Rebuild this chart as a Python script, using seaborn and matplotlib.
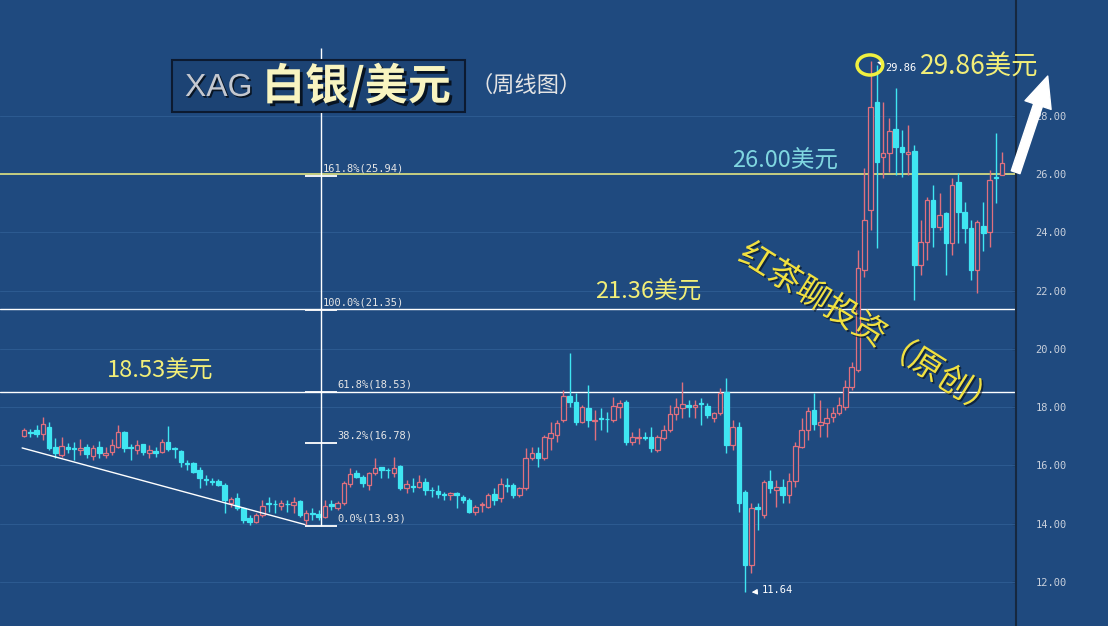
import numpy as np
import pandas as pd
import matplotlib.pyplot as plt
import seaborn as sns
from matplotlib import patheffects as pe
from matplotlib.patches import Rectangle, Ellipse

# weekly XAG/USD candles (open, high, low, close)
opens = [17.02, 17.16, 17.21, 17.07, 17.33, 16.64, 16.36, 16.64, 16.60, 16.53,
         16.64, 16.33, 16.64, 16.36, 16.47, 16.64, 17.16, 16.64, 16.53, 16.72,
         16.41, 16.49, 16.47, 16.79, 16.60, 16.49, 16.09, 16.07, 15.84, 15.52,
         15.46, 15.46, 15.33, 14.70, 14.87, 14.53, 14.18, 14.07, 14.30, 14.72,
         14.69, 14.62, 14.69, 14.64, 14.78, 14.13, 14.38, 14.33, 14.24, 14.66,
         14.53, 14.70, 15.35, 15.73, 15.61, 15.33, 15.73, 15.93, 15.86, 15.73,
         15.99, 15.21, 15.29, 15.27, 15.42, 15.17, 15.13, 15.00, 14.99, 15.07,
         14.93, 14.81, 14.41, 14.63, 14.59, 15.01, 14.87, 15.34, 15.33, 14.99,
         15.21, 16.24, 16.41, 16.24, 16.93, 17.04, 17.56, 18.38, 18.19, 17.50,
         17.96, 17.53, 17.61, 17.60, 17.56, 18.01, 18.19, 16.81, 16.93, 16.97,
         16.99, 16.53, 16.93, 17.21, 17.76, 17.96, 18.07, 17.99, 18.14, 18.04,
         17.61, 17.79, 18.53, 16.70, 17.33, 15.09, 12.58, 14.56, 14.30, 15.48,
         15.16, 15.25, 14.98, 15.48, 16.64, 17.21, 17.90, 17.39, 17.44, 17.65,
         17.79, 18.01, 18.70, 19.27, 22.71, 24.76, 28.48, 26.58, 26.71, 27.54,
         26.91, 26.69, 26.80, 22.88, 23.68, 25.11, 24.19, 24.65, 23.64, 25.74,
         24.71, 24.14, 22.71, 24.22, 24.02, 25.91, 25.97]
highs = [17.28, 17.25, 17.38, 17.67, 17.50, 16.94, 16.96, 16.77, 16.81, 16.92,
         16.72, 16.70, 16.83, 16.64, 16.92, 17.39, 17.18, 16.75, 16.87, 16.75,
         16.70, 16.64, 16.92, 17.36, 16.64, 16.53, 16.19, 16.13, 15.96, 15.67,
         15.56, 15.55, 15.39, 14.93, 15.04, 14.59, 14.30, 14.36, 14.81, 14.93,
         14.81, 14.81, 14.81, 14.93, 14.81, 14.47, 14.53, 14.47, 14.81, 14.81,
         14.78, 15.45, 15.90, 15.84, 15.67, 15.79, 16.24, 15.96, 15.90, 16.30,
         16.02, 15.50, 15.56, 15.67, 15.56, 15.27, 15.33, 15.10, 15.10, 15.10,
         14.99, 14.87, 14.64, 14.76, 15.04, 15.21, 15.56, 15.56, 15.39, 15.27,
         16.59, 16.64, 16.64, 17.05, 17.50, 17.56, 18.59, 19.85, 18.47, 18.07,
         18.76, 17.90, 17.96, 17.84, 18.36, 18.24, 18.24, 17.16, 17.27, 17.16,
         17.33, 17.04, 17.39, 18.07, 18.30, 18.87, 18.24, 18.24, 18.30, 18.13,
         17.84, 18.64, 18.99, 17.56, 17.49, 15.16, 14.71, 14.71, 15.50, 15.84,
         15.50, 15.53, 15.73, 16.81, 17.61, 18.01, 18.47, 18.24, 17.96, 18.01,
         18.36, 18.93, 19.56, 23.39, 26.21, 29.86, 29.75, 28.48, 27.92, 28.94,
         27.51, 27.67, 27.00, 24.42, 25.22, 25.62, 25.34, 24.70, 25.85, 26.03,
         25.05, 24.42, 24.42, 25.05, 26.15, 27.41, 26.77]
lows = [16.97, 16.98, 16.98, 16.87, 16.53, 16.25, 16.30, 16.43, 16.19, 16.36,
        16.25, 16.19, 16.25, 16.25, 16.36, 16.59, 16.47, 16.19, 16.39, 16.36,
        16.25, 16.30, 16.41, 16.50, 16.25, 15.96, 15.84, 15.73, 15.21, 15.33,
        15.33, 15.28, 14.36, 14.59, 14.47, 14.01, 13.96, 14.01, 14.24, 14.41,
        14.36, 14.47, 14.41, 14.36, 14.24, 13.95, 14.13, 14.13, 14.18, 14.47,
        14.47, 14.64, 15.27, 15.56, 15.27, 15.16, 15.67, 15.56, 15.56, 15.61,
        15.16, 15.04, 15.10, 15.21, 14.99, 14.93, 14.87, 14.81, 14.81, 14.53,
        14.70, 14.36, 14.30, 14.41, 14.53, 14.64, 14.76, 15.10, 14.87, 14.93,
        15.16, 16.19, 15.96, 16.19, 16.53, 16.81, 17.50, 18.01, 17.39, 17.44,
        17.33, 16.87, 17.21, 17.16, 17.50, 17.61, 16.70, 16.70, 16.75, 16.87,
        16.47, 16.47, 16.87, 17.16, 17.56, 17.61, 17.67, 17.61, 17.39, 17.61,
        17.50, 17.73, 16.41, 16.53, 14.40, 11.64, 12.31, 13.78, 14.18, 15.04,
        14.59, 14.71, 14.71, 15.27, 16.59, 16.87, 17.21, 16.99, 16.99, 17.50,
        17.73, 17.90, 18.59, 19.22, 22.47, 24.08, 23.46, 25.86, 26.07, 25.97,
        25.91, 25.97, 21.68, 22.54, 23.05, 23.51, 24.08, 22.54, 23.22, 23.63,
        23.63, 22.36, 21.92, 23.37, 23.48, 25.00, 25.95]
closes = [17.21, 17.12, 17.07, 17.41, 16.59, 16.41, 16.68, 16.56, 16.57, 16.61,
          16.39, 16.59, 16.41, 16.41, 16.70, 17.14, 16.59, 16.60, 16.70, 16.47,
          16.53, 16.42, 16.79, 16.56, 16.56, 16.13, 16.06, 15.78, 15.56, 15.49,
          15.43, 15.33, 14.81, 14.84, 14.53, 14.13, 14.07, 14.30, 14.61, 14.68,
          14.66, 14.70, 14.66, 14.76, 14.30, 14.38, 14.35, 14.22, 14.61, 14.62,
          14.70, 15.39, 15.70, 15.61, 15.39, 15.73, 15.90, 15.85, 15.83, 15.90,
          15.21, 15.35, 15.26, 15.42, 15.16, 15.14, 15.01, 14.98, 15.04, 14.99,
          14.81, 14.41, 14.59, 14.66, 14.99, 14.81, 15.35, 15.31, 14.99, 15.21,
          16.24, 16.41, 16.24, 16.99, 17.10, 17.44, 18.38, 18.19, 17.50, 18.01,
          17.56, 17.56, 17.58, 17.58, 18.04, 18.13, 16.81, 16.96, 16.99, 16.95,
          16.59, 16.96, 17.21, 17.76, 18.01, 18.11, 18.01, 18.07, 18.11, 17.73,
          17.79, 18.47, 16.70, 17.33, 14.71, 12.58, 14.54, 14.52, 15.44, 15.21,
          15.27, 14.98, 15.48, 16.66, 17.21, 17.88, 17.42, 17.50, 17.61, 17.79,
          18.07, 18.70, 19.39, 22.76, 24.42, 28.31, 26.42, 26.72, 27.49, 26.91,
          26.77, 26.77, 22.88, 23.68, 25.11, 24.19, 24.59, 23.64, 25.62, 24.71,
          24.14, 22.71, 24.36, 23.96, 25.79, 25.85, 26.37]

y_ticks = [12, 14, 16, 18, 20, 22, 24, 26, 28]
fib_levels = [25.94, 21.35, 18.53, 16.78, 13.93]
fib_labels = ['161.8%(25.94)', '100.0%(21.35)', '61.8%(18.53)', '38.2%(16.78)', '0.0%(13.93)']
fib_label_x = [47.7, 47.7, 49.9, 49.9, 49.9]
trend_x = [-0.3, 44.8]
trend_y = [16.60, 13.97]
high_price = 29.86
low_price = 11.64

bg = '#1f4a7f'
red = '#e0707e'
cyan = '#3fe6f2'
yellow = '#f2ee78'

sns.set_style('dark', rc={'axes.facecolor': bg, 'figure.facecolor': bg})
plt.rcParams['font.family'] = ['Noto Sans CJK SC', 'DejaVu Sans']

df = pd.DataFrame({'open': opens, 'high': highs, 'low': lows, 'close': closes})
df['x'] = np.arange(len(df))
up = (df['close'] >= df['open']).values

fig = plt.figure(figsize=(11.08, 6.26), dpi=100)
ax = fig.add_axes([0, 0, 1016 / 1108, 1])
ax.set_facecolor(bg)

# grid
for v in y_ticks:
    ax.axhline(v, color='#2c5a90', lw=0.8, zorder=1)

# candles
ax.vlines(df['x'], df['low'], df['high'], colors=np.where(up, red, cyan), lw=1, zorder=3)
body = np.maximum((df['close'] - df['open']).abs(), 0.025)
ax.bar(df['x'], body, bottom=np.minimum(df['open'], df['close']), width=0.72,
       color=np.where(up, bg, cyan), edgecolor=np.where(up, red, cyan), linewidth=0.9, zorder=4)

# key level lines
ax.axhline(26.00, color='#f0f080', lw=1.1, zorder=2)
ax.axhline(21.36, color='white', lw=1, zorder=2)
ax.axhline(18.53, color='white', lw=1, zorder=2)

# fibonacci tool
ax.vlines(47.4, 13.93, 30.32, color='white', lw=1, zorder=5)
for lvl, lab, lx in zip(fib_levels, fib_labels, fib_label_x):
    ax.hlines(lvl, 44.8, 49.9, color='white', lw=1.3, zorder=5)
    ax.text(lx, lvl + 0.06, lab, fontsize=7.5, family='DejaVu Sans Mono', color='#e6e6e6',
            va='bottom', ha='left', zorder=6)
ax.plot(trend_x, trend_y, color='white', lw=1, zorder=5)

# price labels
ax.text(142.9, 29.67, '29.86美元', fontsize=19, color=yellow, va='center', ha='left')
ax.text(112.9, 26.45, '26.00美元', fontsize=17, color='#7fd6e0', va='center', ha='left')
ax.text(91.1, 21.95, '21.36美元', fontsize=17, color=yellow, va='center', ha='left')
ax.text(13.2, 19.24, '18.53美元', fontsize=17, color=yellow, va='center', ha='left')

ax.annotate(f'{high_price:.2f}', xy=(135.6, high_price), xytext=(137.4, 29.64),
            fontsize=7.5, family='DejaVu Sans Mono', color='white', va='center',
            arrowprops=dict(arrowstyle='-|>', color='white', lw=0.8, mutation_scale=8))
ax.annotate(f'{low_price:.2f}', xy=(115.6, low_price), xytext=(117.7, 11.72),
            fontsize=7.5, family='DejaVu Sans Mono', color='white', va='center',
            arrowprops=dict(arrowstyle='-|>', color='white', lw=0.8, mutation_scale=8))
ax.add_patch(Ellipse((134.9, 29.74), width=4.1, height=0.69, fill=False,
                     ec='#f0f040', lw=2.5, zorder=7))

# big white arrow out of the axis
ax.annotate('', xy=(163.4, 29.45), xytext=(158.0, 25.97), annotation_clip=False,
            arrowprops=dict(arrowstyle='simple,head_length=1.0,head_width=0.9,tail_width=0.3',
                            fc='white', ec='white', mutation_scale=22))

# watermark
ax.text(134.8, 20.62, '红茶聊投资（原创）', fontsize=24, fontweight='medium', color='#f0e040',
        rotation=-32, ha='center', va='center', rotation_mode='anchor', zorder=8,
        path_effects=[pe.withSimplePatchShadow(offset=(1.2, -1.2), shadow_rgbFace='black', alpha=0.5)])

# title box
fig.patches.append(Rectangle((172 / 1108, 1 - 112 / 626), 293 / 1108, 52 / 626,
                             transform=fig.transFigure, fc='#1c4374', ec='#0c1a30', lw=1.5, zorder=9))
fig.text(185 / 1108, 1 - 88 / 626, 'XAG', fontsize=23, color='#c4c8d0', family='Liberation Sans',
         va='center', ha='left', zorder=10,
         path_effects=[pe.withSimplePatchShadow(offset=(1.2, -1.2), shadow_rgbFace='black', alpha=0.7)])
fig.text(262 / 1108, 1 - 86 / 626, '白银/美元', fontsize=31, fontweight='bold', color='#f8f4c0',
         va='center', ha='left', zorder=10,
         path_effects=[pe.withSimplePatchShadow(offset=(2, -2), shadow_rgbFace='black', alpha=0.7)])
fig.text(470 / 1108, 1 - 85 / 626, '（周线图）', fontsize=16, color='#e4e4e4', va='center', ha='left')

# axes
ax.set_xlim(-3.83, 158.2)
ax.set_ylim(10.49, 31.97)
ax.yaxis.tick_right()
ax.set_yticks(y_ticks)
ax.set_yticklabels([f'{v:.2f}' for v in y_ticks])
ax.set_xticks([])
ax.tick_params(axis='y', labelsize=7.5, labelcolor='#c8d0dc', color='#16283f',
               length=3, pad=14, direction='in', width=1)
for lab in ax.get_yticklabels():
    lab.set_family('DejaVu Sans Mono')
for side in ['top', 'left', 'bottom']:
    ax.spines[side].set_visible(False)
ax.spines['right'].set_visible(True)
ax.spines['right'].set_color('#16283f')
ax.spines['right'].set_linewidth(1.5)
ax.grid(False)

fig.savefig('out.png', dpi=100, facecolor=bg)
